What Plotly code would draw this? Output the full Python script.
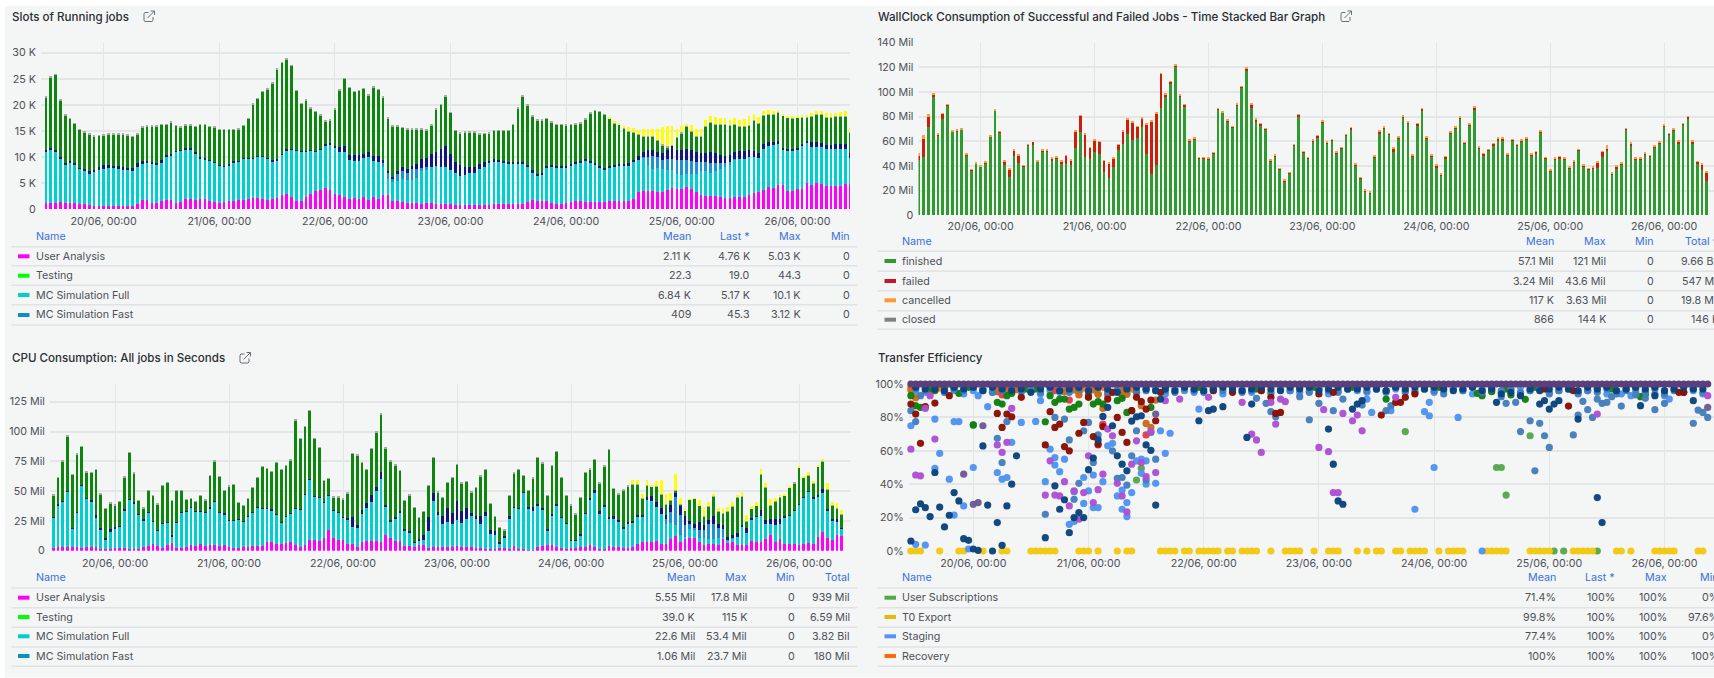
import datetime as dt
import numpy as np
import plotly.graph_objects as go

W, H = 1714, 678
FONT = "Inter"
TXT = "#4c5157"
HEAD = "#3871dc"
TITLE = "#2a2e33"
GRID = "#e3e5e6"
PANEL = "#f4f5f5"

# ---------- Slots of Running jobs (thousands), 168 hourly bars ----------
slots_analysis = [1.1,1.1,1.1,1.3,1.1,1.1,1.1,1.0,.9,.7,.6,.6,.6,.6,.6,.6,.6,.6,.6,.9,1.7,1.8,1.2,1.1,1.6,1.8,1.8,1.2,1.4,1.9,1.9,1.8,1.9,2.0,1.6,1.4,1.2,1.4,1.6,1.5,1.7,1.8,2.0,2.1,2.2,2.0,1.8,1.9,2.2,2.6,2.8,2.3,1.6,1.6,2.3,2.9,3.4,3.6,4.0,3.7,2.8,2.7,2.3,2.0,2.1,2.0,2.3,1.8,2.3,1.9,2.7,2.6,1.6,1.6,1.3,1.2,1.2,1.2,1.0,1.1,1.2,1.0,1.0,.9,.9,.8,.8,.7,.7,.7,.7,.7,.8,.9,.9,.9,.9,1.0,1.0,1.0,1.4,1.7,1.6,1.6,1.6,1.2,1.0,1.0,1.2,1.4,1.5,1.5,1.4,1.3,1.3,1.4,1.4,1.6,1.6,1.6,1.6,1.6,2.0,3.2,3.4,3.5,3.5,3.3,3.3,3.7,4.0,3.9,3.9,4.3,3.8,3.2,2.7,2.5,2.5,2.5,2.3,2.2,2.2,2.3,2.3,2.3,2.6,3.1,3.2,3.7,4.2,4.1,4.6,4.6,3.4,3.4,3.8,3.8,5.0,4.7,4.9,4.8,4.5,4.4,4.4,4.4,4.8,4.76]
slots_full_top = [10.9,11.3,11.0,9.6,8.6,8.8,8.4,7.7,7.2,6.8,7.1,7.4,7.7,7.9,7.8,7.7,7.5,7.4,7.3,8.0,8.7,8.8,8.6,8.4,8.9,9.9,10.3,11.0,11.2,11.4,11.5,10.7,9.7,9.5,9.3,8.9,8.3,8.1,8.4,9.0,9.1,9.7,9.7,9.7,10,10,9.6,9.1,9.4,10.4,11.3,11.4,11.2,11.0,11.0,11.2,11,11.4,12.1,12.3,11.8,11.0,10.9,9.4,9.2,9.2,9.8,10,9.2,9.1,8.0,5.8,5.2,5.4,5.8,5.6,5.6,6.0,7.2,7.5,8.0,8.2,8.1,8.0,7.5,7.0,6.4,6.6,7.0,7.0,7.6,8.0,9.0,9.0,9.0,8.9,8.8,8.8,8.8,8.8,8.0,7.0,6.5,6.6,8.0,8.0,8.0,8.0,8.0,8.4,8.7,9.0,9.2,9.0,8.6,8.0,7.6,7.9,8.1,8.2,8.2,8.3,9.0,9.4,9.8,8.5,7.6,7.8,7.6,7.5,7.4,6.7,6.6,6.8,6.8,6.8,7.2,7.2,7.0,7.2,7.6,8.0,8.4,9.5,9.6,9.6,10.0,10.0,9.8,11.5,12.1,12.2,12.4,11.3,11.1,11.1,11.4,12.0,12.6,11.9,11.9,11.9,11.5,11.5,11.5,11.5,11.5,9.8]
slots_fast = [0]*70+[.8,1.2,.6,1.4,1.4,1.4,2.0,1.6,.6,.5]+[0]*44+[.2,1.5,2.6,2.2,1.8,2.1,2.2,2.7,2.8,2.7,2.4,2.2,1.8,1.8,1.8,1.6,1.2,.8,.6,.1]+[0]*24
slots_navy_top = [11.3,11.8,11.4,9.9,8.9,9.2,8.8,7.9,7.6,7.2,7.5,8.0,8.4,8.5,8.3,8.2,8.1,7.8,7.8,8.8,9.3,9.2,9.0,8.8,9.4,10.3,10.5,11.2,11.4,11.7,11.8,11,9.9,9.7,9.5,9.1,8.5,8.3,8.6,9.2,9.3,9.8,9.8,9.8,10.1,10.1,9.8,9.4,9.6,10.6,11.5,11.6,11.3,11.1,11.1,11.4,11.2,11.6,12.4,12.6,12.0,11.9,12.1,10.3,10.4,10.4,10.6,11,10.2,10.2,9.4,7.3,6.1,7.2,8.0,7.6,8.3,8.6,9.6,9.8,10.6,11.0,11.5,12.0,10.5,9.0,8.4,8.1,8.1,8.1,8.6,9.0,9.3,9.6,9.4,9.3,9.0,9.1,9.1,9.1,8.4,7.4,6.7,7.0,8.2,8.4,8.3,8.3,8.3,8.7,9.1,9.3,9.6,9.2,8.9,8.3,7.9,8.3,8.4,8.6,8.6,8.8,9.5,10.2,11.0,11.3,11.4,11.0,10.7,11.3,12.1,11.3,11.3,11.6,11.3,11.0,10.8,10.8,10.9,10.8,10.3,10.2,10.3,10.9,11.2,11.2,11.4,11.1,10.7,12.4,12.9,12.9,13.0,11.7,11.5,11.6,11.8,12.4,13.0,12.8,12.8,12.7,12.2,12.3,12.4,12.4,12.4,10.7]
slots_total = [21.6,25.4,25.9,21,18.1,17.4,16.5,15.3,14.8,14.4,14.1,14.2,14.3,14.4,14.4,14.4,14.4,14.3,14.0,14.5,15.8,16.0,16.0,16.0,16.3,16.3,16.7,16.1,15.8,16.2,16.2,15.9,16.3,16.3,15.9,15.8,15.3,15.3,15.3,15.3,15.4,16.1,17.4,20.2,21.3,22.6,23.1,24.3,26.9,28.2,28.8,27.6,22.8,20.3,21.0,19.5,18.8,18.1,17.0,17.2,19.3,22.9,25.1,23.4,22.6,22.8,23.2,22.0,23.5,23.0,21.6,17.5,16.0,16.0,15.7,15.4,15.4,15.4,15.4,15.2,16.2,19.2,20.1,21.7,18.6,15.1,14.7,14.8,14.8,14.8,14.5,14.55,14.7,15.1,15.1,15.1,15.1,16.3,19.4,21.7,20.0,17.9,17.1,17.1,17.4,16.8,16.3,16.3,16.2,16.3,16.4,16.6,17.3,18.5,19.0,18.8,18.2,17.6,16.9,16.6,16.0,15.8,15.6,15.1,15.4,15.4,15.4,15.4,15.7,15.9,16.0,15.3,16.0,16.3,16.1,15.4,15.4,17.1,17.8,17.6,17.4,17.4,17.1,17.4,17.0,17.2,17.8,18.3,17.6,18.8,19.0,18.8,19.0,18.3,17.9,17.7,17.9,18.0,18.1,18.4,18.8,18.8,18.4,18.4,18.5,18.6,18.8,15.6]
slots_yellow = [0]*117+[.2,.4,.3,.4,.8,.8,.7,1.4,1.4,1.3,2.1,3.3,3.9,3.8,1.5,1.3,.3,1.1,1.4,1.4,1.2,1.1,1.2,1.0,1.1,.9,1.0,1.1,1.3,1.7,1.2,1.1,.8,.8,.6,.4,.3,.3,.2,.3,.4,.4,.5,.6,.6,.7,.7,.7,.8,1.0,.8]
slots_cap = [.12]*168

# ---------- WallClock consumption (millions), 167 hourly bars ----------
wall_total = [50.5,65,82,99,66.5,83,90.5,69,69.5,70.5,50,37.5,43,40.5,43.5,65,86,68.5,44.5,38.5,53.5,49.5,41,58,59.5,44.5,53.5,53.5,47,48,44.5,49,45.5,69,81.5,66.5,55.5,61.5,60.5,45,43,47,58,69,78.5,76,72.5,79.5,74.5,77,83.5,115.5,99,109,122.5,98,90.5,61.5,63,47.5,47.5,47,51.5,87,84.5,78,72.5,91,105,120,91,78.5,75,71,45.5,49.5,38.5,
              29,35,58,82,52,47.5,61.5,65,77,60,62,51.6,55.4,66,71.6,42,31,21,19.5,48.6,69,72,67,55,64,81,76,49.5,75,87,64,49.5,41.4,34,48,68,72,80,59.5,74.6,88.4,55.7,50.5,54,58.6,63,63,50.3,62,57.8,61.6,63,50.3,52,69,47.5,37.3,46.8,48,46.8,39.5,44.3,54,41.4,38.6,39.5,43.5,52,56.8,34.6,40.3,42.7,71,59,47.3,47.3,51,49,56.5,60,73.8,66.8,70.3,60.8,74.9,80.5,60.8,44,42.2,35.7]
wall_failed = [3.5,15,8,2,1,4.5,.5,.5,.5,.5,.5,.5,.5,.5,1,.5,.5,.5,3.5,6.5,4.5,6.5,1,.5,1.5,.5,1,1,1.5,1.5,2,6.5,4,14,13.5,19,9,10,10,9.5,12.5,7.5,4.5,11,12,14.5,9,7,24,43,42,28,2.5,1.5,2,.5,2.5,1,1,1,.5,1,1,.5,.5,1,.5,1,1,1.5,3.5,1.5,1.5,1,1,1,.5,
               .8,.8,.8,1,.8,1,1.2,1,1,1,1,.8,.8,1,1,1,.9,1,1.2,1,2.5,2,1.2,3,1.3,1,1,1.5,1.2,2,1.2,1.5,1.6,2,1.2,1,1,1,1,1,2,1,1.2,1.2,1,1.2,2,1,1,.8,1,1,1,1,1,1,1,1,1,1,1,1,1,1,1,1.2,4.5,4.5,1,1,1.5,1.2,.8,1.2,1,1,1,1,1,1,1,1,1,1,1,1,1.5,1.5,5,7.5]
wall_cancelled = [2.5,3,2,1,.5,.5,.5,.5,.5,.5,.5,.5,.5,.5,.5,.5,.5,.5,.5,1,.5,.5,.5,.5,0,.5,.5,.5,.5,.5,.5,.5,.5,.5,.5,.5,.5,.5,.5,.5,.5,.5,.5,.5,.5,.5,.5,.5,.5,.5,.5,.5,.5,.5,.5,.5,.5,.5,.5,.5,.5,.5,.5,.5,.5,.5,.5,.5,.5,.5,.5,.5,.5,.5,.5,.5,.5,
                  .4,.4,.4,.4,.3,.4,.4,.4,.4,.6,.4,.4,.4,.4,.4,.4,.4,.4,.4,.4,.4,.4,.4,.4,.4,.4,.4,.4,.4,.5,.4,.4,.4,.4,.4,.4,.4,.4,.4,.4,.6,.4,.4,.4,.4,.5,.4,.4,.4,.4,.4,.5,.4,.4,.4,.4,.4,.4,.4,.4,.4,.4,.4,.4,.4,.4,.4,.4,3.3,.4,.4,.4,.4,.7,1,.6,.5,.4,.4,.4,.4,.4,.4,1,.4,.4,.8,.5,.4,.4]

# ---------- CPU consumption (millions), 167 hourly bars ----------
cpu_analysis = [2.2,3.5,3.5,3.5,3,3.5,2.5,3,3.2,3,1.7,1.2,1.2,2,2.2,2.2,1.7,1.2,1.8,3.2,3.7,5.7,4,2,4.7,6.7,2.5,2.5,3.2,5,4.2,5.5,4.2,5.2,5.2,3.8,4.6,3.4,2.5,2.5,3.5,3.3,3.7,4.3,3.8,7,7,5.7,6,6.2,7.2,5,3.5,4.7,9,9,8.5,11,17.5,10.5,8.7,9.2,6,5.5,3,7.5,8,8.5,8.5,7.5,13,10.3,8,8.2,3.6,4.2,3,5,5,2.6,
                2.8,2.7,2.7,3.5,3,3.6,2.8,3.2,2.8,2,2,1.5,1.5,1.7,2.3,2.1,1.2,3.7,1.7,1.7,1,1,
                3.5,4,5,4.7,3,2.2,1.5,2,2.5,2.8,2.8,4.5,3.5,1.8,1.8,4.2,3,2.8,2.2,2.5,2.8,5.5,7.5,7,7.5,8.5,5.5,5.5,9.5,12,7,10,11,11,7.5,5,5.5,5.5,5,10.5,6.5,7,4.5,5,4.5,8,7.5,7,9.5,13,7.5,10,6,6,6,5,5.5,6.5,6,11.5,16,11,9,13,12]
cpu_full_top = [27.7,37.5,41,50,18.7,32,55,44,41.5,27.4,17.5,9.5,15.4,17.9,20.7,33.3,43.3,39.7,30,24.6,32,24.6,17.3,22.9,23.5,12.3,23.5,32,33.3,36.3,33.3,32.7,32,35,41,32,30.7,25.7,25.7,26.3,24.3,28.5,31.9,36.4,35.2,35.5,34,30,23.5,28.5,31.3,35.8,34.7,47,59.8,45.6,44.7,40.8,46.7,34,32.4,28,25.7,20,18.7,30.8,35.8,41,50.3,60.4,36.3,24.6,27.4,31.9,16.2,15,6.7,8.4,9,16.8,
                41.7,30,22,24.3,22,25.7,23,26.3,29,26.3,22,29,13.7,13,6,10.3,26.8,36.3,35.5,48.7,35,33.6,
                37.5,34,17.3,29.9,38.3,27.7,22.9,8.9,8.4,13.1,31.3,43.3,48.7,30.8,36.3,26.6,26.8,24.3,18.7,22.4,23.5,29,28.5,42.5,41.9,36.3,30.8,22.4,22.9,21.5,13.1,11.7,18.2,17.3,10.3,10.3,9.5,9.5,10.3,11.7,8.9,10.3,11.7,19.6,15.1,26.3,28.5,29,22.4,22.4,21.5,22.4,28,29.4,34.1,39.1,44.7,49.5,43.9,45.3,48.7,33.6,25.7,23.8,18.7]
cpu_fast = [0]*129+[4.2,9.8,23.8,16.8,9.8,4.2,1.7,7,7,12.9,12.9,8.4,6.8,.2,.2]+[0]*23
cpu_navy_top = [28,39.4,41.5,50.5,19,32.4,55.3,44.3,42.5,30,18.7,10.3,17.9,20,21,35.2,43.7,40.8,31,26.3,32.8,25,17.6,23.2,23.8,13.4,23.8,32.3,33.6,36.6,33.6,33,32.3,36.3,41.3,32.7,31.5,26,26,26.6,24.6,28.8,32.2,36.7,35.5,35.8,35.4,30.8,23.8,28.8,31.6,36.1,35,47.3,60.1,46,45,41.1,47,34.3,32.7,28.3,27.4,28,21.5,33.8,40.3,47,53.7,66,38,25.7,28,33,17.9,16.2,7.5,9.5,13.4,28,
                48.7,32.7,29.4,35.5,32,41.7,33.3,35.5,32,29,29.4,32.2,17,16.5,7.3,12.6,28.8,36.6,35.8,49,36.3,36.9,
                38.9,36,18.2,30.8,38.8,28.2,23.2,9.2,8.7,13.9,31.6,43.9,50.9,33.3,38.3,28,29,25.7,20.1,24.3,24.9,29.9,29.9,45.3,45.6,40.8,35.5,30.2,38.3,48.7,38.3,29.4,25.2,22.1,24.3,21.5,25.7,29.4,22.4,21.5,11.7,13.1,14.5,21.5,18.7,27.7,29,34.1,25.7,26.3,26.6,26.3,29.4,29.8,34.4,39.6,45.3,50,44.7,46.7,51.4,35.2,26.3,26.3,19]
cpu_green_top = [46.7,61.5,75,96,64,81,87,66,65.5,68,47.5,35,40,38.3,41,61.8,82.5,65,41.7,35.8,50.3,46.4,39,54.8,56.8,41.7,50.3,50.3,42.8,43.6,41,46.4,42.5,63,75,62.3,50.3,54.2,55.3,40.5,38,43.6,53,61.5,70.5,69,66.5,73.8,68,71.3,76,109.6,94,104,117.7,94,86.7,58.7,60.4,45,45,43.3,48.4,81.6,80,73.8,68,85.6,99.5,114.4,86,75,71.8,67.4,41.7,46.7,36,27.7,32.7,54.5,
                 78.3,49,44.5,57,61.5,72.4,56.5,58,49.2,52.8,62.6,68,39.7,28.8,19.3,17.3,46,64.9,68,63.2,50.3,60.7,
                 78,73.3,46.4,71.3,83,61.2,46.1,38.3,30.5,44.5,65.4,68.5,76.3,56.5,71,85,52.3,47.5,50.9,54.2,55.9,55.4,44.2,54.5,53.7,54.2,47.3,39.1,42.2,50.3,39.1,33.6,42.8,43.6,37.5,28.5,36.9,45.3,32.7,31.3,33.3,36.9,44.7,45.3,24.3,35,37.5,64.3,52.8,38.3,41.1,44.5,46.4,53.1,56.5,69.9,61.5,63.5,56.5,70.5,74.9,51.7,38.3,35.2,30.5]
cpu_yellow = [0]*122+[3.4,3.6,2.8,4.5,1.3,4,12,7.9,5.6,14,4.5,.5,.2,.1,4.4,7.5,3.4,2,3.1,4.2,2.7,3.6,2,3.6,5.3,1.9,3,3.6,3.7,5,2.8,2.2,.6,.6,0,.8,1.1,2.5,1.4,.8,2,4.8,2.2,4.5,3.6]
cpu_cap = [.3]*167

# ---------- Transfer efficiency: (hour index, percent) ----------
t0_hours = [0,1,2,6,10,11,15,19,20,25,26,27,28,29,30,35,36,37,39,43,45,46,52,53,54,55,57,58,60,61,62,63,64,66,67,69,70,71,72,75,78,79,80,81,84,87,88,89,93,95,97,98,101,102,104,105,106,107,110,112,113,114,115,120,121,122,123,124,129,130,131,132,133,138,139,140,141,142,147,148,150,155,156,157,158,159,164,165]
t0_values = [0]*len(t0_hours)
subs_pts = [(13,75.5),(47,42.5),(48,49.5),(103,71.5),(122,50),(123,50),(124,33.5),(129,69),(134,0),(136,0),(143,0)]
staging_pts = [(0,75),(1,4),(3,3.6),(5,79),(6,58.5),(5,49.5),(8,43),(9,77.5),(10,77.5),(9,21.5),(11,27),(13,50),(12,1.2),(14,93),(16,86.4),(18,47),(19,43),(20,44),(21,65),(23,77),(26,77.6),(27,90),(28,41.5),(29,61),(30,56),(30,51.5),(31,47.5),(32,55),(33,16),(34,35.5),(34,17.6),(36,44),(36,28.5),(37,36),(38,45.5),(38,26),(39,26),(40,41.5),(41,63),(42,64.5),(43,33),(44,36.5),(44,25),(45,29),(45,20.6),(46,35),(47,54),(48,55),(48,46.5),(49,54),(49,40),(51,40.5),(52,72),(53,58.5),(54,70.5),(60,85),(15,96),(17,96),(96,83),(109,50),(108,89),(107,83.4),(108,81),(105,25),(114,80),(119,0),(100,84),(95,91),(148,94),(150,93),(158,91),(157,93)]
recovery_pts = [(0,98),(1,98),(3,97.5),(4,98),(5,98),(6,97.5),(18,98),(19,97),(20,97.5),(21,98),(22,98),(23,97.5),(30,98),(31,97.5),(32,98),(33,97),(34,97.5),(35,98),(36,97.5),(37,98),(38,97),(39,97.5),(40,98),(44,97.5),(45,98),(46,97)]
red_pts = [(18,95.4),(19,93.4),(33,90.4),(37,93.4),(39,63.5),(40,76),(41,93.4),(43,95.4),(44,93.4),(49,69.5),(20,96),(30,96),(35,95)]
orange_dark_pts = [(0,96.4),(1,91.8),(18,96.4),(20,96.4),(22,96.6),(32,95.4),(33,96.4),(34,96.4),(35,93.4),(37,96.4),(38,96.4),(39,93.8),(40,85.4),(43,96.4),(44,95.4),(45,93.8),(48,87),(49,76.4),(50,74),(51,90.4)]
green_pts = [(0,93),(1,87),(2,86),(4,96),(5,96),(10,94.4),(13,75.5),(18,89),(19,88),(20,93),(21,94.4),(28,77.4),(29,93),(30,89),(31,91),(32,91),(33,85),(34,86),(35,88),(37,92.4),(38,88),(39,89.4),(40,88),(43,90),(44,91.4),(45,83),(46,84),(47,95),(50,86),(99,91),(118,94.4),(119,93),(121,95.4),(124,97),(125,93.4),(127,93.4),(128,90.8),(152,92.4),(153,93.8),(7,98),(9,98),(12,98),(24,97),(26,97),(53,98),(60,98),(72,97),(84,98),(92,98),(110,98),(130,98),(146,97)]
medblue_pts = [(0,84),(1,77.5),(2,93),(18,67.5),(19,53),(20,77.5),(28,22),(30,80),(32,79),(33,66.5),(34,31),(35,40.5),(36,72),(37,77),(38,53),(39,69.5),(42,60),(43,43.5),(44,44),(45,39.5),(46,57),(47,72),(49,42.5),(50,71),(51,55),(85,88.4),(88,84),(83,78.6),(75,83.4),(76,80.4),(90,91),(94,87.4),(99,84),(100,87),(123,92.4),(124,88.4),(126,89),(127,71.5),(129,78),(130,48),(131,76.5),(132,69),(133,62),(138,69.5),(139,81.4),(140,89.6),(141,84.6),(142,80),(143,91),(144,88.4),(145,89),(146,92.4),(148,86.8),(155,84.6),(157,88.4),(163,76.5),(164,84.4),(165,83),(166,80),(74,88.4),(81,92.4),(72,91.4),(153,91.4),(151,93.4)]
darkred_pts = [(0,88),(1,82),(2,64.5),(3,86.4),(5,88.6),(8,93),(18,82.4),(19,74),(20,82),(21,80.4),(23,92),(28,63.5),(29,83.4),(30,74),(31,76),(32,62.5),(33,60),(35,70.5),(36,77),(37,92),(38,68.5),(39,64),(40,74.5),(41,91),(42,95),(43,80),(44,71),(45,65),(46,84),(47,92),(48,89.4),(49,85),(50,90.4),(51,78),(52,95),(63,96),(67,95),(75,92),(76,82.4),(77,83),(85,94),(98,81.4),(101,89),(102,89),(103,92),(105,94),(137,86.8),(138,96),(132,97),(160,95),(161,95),(88,95),(73,96)]
purple_light_pts = [(0,61),(1,45.5),(2,45),(3,85.4),(4,93),(5,67),(7,96),(18,63.5),(19,59),(20,65),(21,85.4),(28,33.5),(29,54),(30,33.5),(31,33),(32,41.5),(33,27),(34,36),(35,19),(36,35),(37,57),(38,29),(39,36.7),(40,46),(41,73),(42,69),(43,40.5),(44,33),(45,23.4),(46,52),(47,66),(48,53),(49,44.5),(50,71.5),(51,47),(53,90),(56,91),(62,92),(69,89),(71,70),(72,66.5),(73,59),(75,89),(76,76),(77,91),(78,89.4),(86,84.6),(90,82.4),(92,78),(93,81.4),(94,72),(85,62),(87,59.5),(88,35),(89,35),(101,92),(143,82),(166,93)]
purple_dim_pts = [(11,46),(13,28),(14,29),(15,75),(51,82),(166,86)]
navy_pts = [(0,6),(1,24.7),(2,28.3),(3,26),(4,20.6),(6,26.3),(5,47),(7,14.4),(8,21.4),(9,35),(10,30),(11,7.4),(12,6.4),(13,1.2),(14,.4),(15,62.9),(16,27.5),(17,0),(18,17),(19,3.4),(20,27),(21,40),(22,57),(28,8),(30,39),(31,25),(32,30.7),(33,11),(34,20),(35,23),(36,20),(37,48.7),(38,55.7),(39,66.5),(40,80.6),(41,86),(42,75),(43,57),(44,52),(45,48),(46,77.8),(47,80.4),(48,81),(49,63.5),(50,60.3),(51,27.5),(52,91),(60,78),(62,84),(63,85),(65,86.4),(70,68),(71,88),(87,73),(88,52),(89,30),(90,28),(92,85),(93,88),(94,90),(122,89),(131,88),(132,90),(133,85),(134,88),(135,90),(139,79),(143,32),(144,17),(152,87),(155,93),(163,90)]
band_hours = list(range(1, 167, 2))
band_navy = [98,97,97,96,98,97,98,96,98,97,96,97,95,97,98,96,97,98,96,98,97,95,97,98,97,96,97,96,98,97,96,97,98,97,96,97,98,97,96,98,97,98,96,97,98,97,97,98,97,96,98,97,98,97,98,97,96,97,98,96,97,94,95,93,97,96,97,98,97,96,98,97,98,96,97,98,97,98,96,97,98,97,97]
band_staging = [96,95,97,95,96,94,96,97,95,96,97,95,96,94,96,95,97,96,95,94,96,97,95,96,97,96,94,97,96,95,97,96,94,96,97,95,96,94,97,96,95,96,97,94,96,97,96,95,97,96,97,95,96,97,95,96,97,96,94,97,96,95,97,98,96,97,95,96,97,95,96,97,94,96,97,95,96,94,96,97,95,96,94]
band_blue = [97,96,98,95,97,96,98,97,95,96,98,96,97,95,98,96,95,97,96,98,95,96,97,95,96,98,96,95,97,96,95,97,96,98,95,96,97,95,97,96,98,95,97,96,95,97,98,96,97,95,98,96,95,97,96,94,97,96,98,95,97,96,97,95,96,97,94,96,97,94,96,95,97,94,96,97,95,97,94,96,95,97,95]
purple_hours = list(range(167))
purple_values = [100]*167

# ---------- Tables ----------
tbl_slots_head = ["Mean", "Last *", "Max", "Min"]
tbl_slots = [("User Analysis", "#ff00ff", ["2.11 K", "4.76 K", "5.03 K", "0"]),
             ("Testing", "#00ff00", ["22.3", "19.0", "44.3", "0"]),
             ("MC Simulation Full", "#00cfcf", ["6.84 K", "5.17 K", "10.1 K", "0"]),
             ("MC Simulation Fast", "#0a8fc9", ["409", "45.3", "3.12 K", "0"])]
tbl_wall_head = ["Mean", "Max", "Min", "Total ▾"]
tbl_wall = [("finished", "#2f9a2f", ["57.1 Mil", "121 Mil", "0", "9.66 Bil"]),
            ("failed", "#c4162a", ["3.24 Mil", "43.6 Mil", "0", "547 Mil"]),
            ("cancelled", "#ff9830", ["117 K", "3.63 Mil", "0", "19.8 Mil"]),
            ("closed", "#808080", ["866", "144 K", "0", "146 K"])]
tbl_cpu_head = ["Mean", "Max", "Min", "Total"]
tbl_cpu = [("User Analysis", "#ff00ff", ["5.55 Mil", "17.8 Mil", "0", "939 Mil"]),
           ("Testing", "#00ff00", ["39.0 K", "115 K", "0", "6.59 Mil"]),
           ("MC Simulation Full", "#00cfcf", ["22.6 Mil", "53.4 Mil", "0", "3.82 Bil"]),
           ("MC Simulation Fast", "#0a8fc9", ["1.06 Mil", "23.7 Mil", "0", "180 Mil"])]
tbl_eff_head = ["Mean", "Last *", "Max", "Min"]
tbl_eff = [("User Subscriptions", "#56a64b", ["71.4%", "100%", "100%", "0%"]),
           ("T0 Export", "#e8b90c", ["99.8%", "100%", "100%", "97.6%"]),
           ("Staging", "#5794f2", ["77.4%", "100%", "100%", "0%"]),
           ("Recovery", "#ff6a0a", ["100%", "100%", "100%", "100%"])]

# ---------- Layout helpers ----------
def px(x): return x / W
def py(y): return 1 - y / H
BASE = dt.datetime(2024, 6, 20)
def when(hours): return BASE + dt.timedelta(hours=float(hours))

fig = go.Figure()
annots, shapes = [], []
shapes.append(dict(type="rect", xref="paper", yref="paper", x0=px(5), x1=1, y0=py(677.5), y1=py(6),
                   fillcolor=PANEL, line_width=0, layer="below"))

def text(x, y, s, color=TXT, size=10.7, anchor="left", weight=None):
    annots.append(dict(xref="paper", yref="paper", x=px(x), y=py(y), text=s, showarrow=False,
                       xanchor=anchor, yanchor="middle", borderpad=0, borderwidth=0,
                       font=dict(family=FONT, size=size, color=color, weight=weight or 400)))

def icon(x, y):
    pts = [(x+4.5,y+2),(x+1,y+2),(x,y+3),(x,y+10),(x+1,y+11),(x+8,y+11),(x+9,y+10),(x+9,y+6.5)]
    d = "M" + " L".join(f"{px(a):.5f},{py(b):.5f}" for a,b in pts)
    d += f" M{px(x+3.5):.5f},{py(y+7.5):.5f} L{px(x+10.5):.5f},{py(y+.5):.5f}"
    d += f" M{px(x+6.5):.5f},{py(y+.5):.5f} L{px(x+10.5):.5f},{py(y+.5):.5f} L{px(x+10.5):.5f},{py(y+4.5):.5f}"
    shapes.append(dict(type="path", xref="paper", yref="paper", path=d, line=dict(color="#6a7078", width=1)))

def table(head, rows, xname, xsw, xcols, yhead, yrows, seps, xl, xr):
    text(xname, yhead, "Name", HEAD)
    for h, xc in zip(head, xcols):
        text(xc, yhead, h, HEAD, anchor="right")
    for (name, col, vals), y in zip(rows, yrows):
        shapes.append(dict(type="rect", xref="paper", yref="paper", x0=px(xsw), x1=px(xsw+11.5),
                           y0=py(y+2), y1=py(y-2), fillcolor=col, line_width=0))
        text(xname, y, name)
        for v, xc in zip(vals, xcols):
            text(xc, y, v, anchor="right")
    for s in seps:
        shapes.append(dict(type="line", xref="paper", yref="paper", x0=px(xl), x1=px(xr), y0=py(s), y1=py(s),
                           line=dict(color="#e0e2e3", width=1.5)))

def axes(idx, left, right, top, bottom, origin, perday, ymax, tickvals, ticktext, standoff):
    ax = "" if idx == 1 else str(idx)
    fig.layout["xaxis"+ax] = dict(domain=[px(left), px(right)], anchor="y"+ax, type="date",
        range=[BASE + dt.timedelta(days=(left-origin)/perday), BASE + dt.timedelta(days=(right-origin)/perday)],
        tick0=BASE, dtick=86400000, tickformat="%d/%m, %H:%M", showgrid=True, gridcolor=GRID, gridwidth=1.2,
        zeroline=False, showline=False, ticks="outside", ticklen=standoff, tickcolor="rgba(0,0,0,0)",
        tickfont=dict(family=FONT, size=10.7, color=TXT))
    fig.layout["yaxis"+ax] = dict(domain=[py(bottom), py(top)], anchor="x"+ax, range=[0, ymax], tickvals=tickvals,
        ticktext=ticktext, showgrid=True, gridcolor=GRID, gridwidth=1.5, zeroline=False, showline=False,
        ticks="outside", ticklen=2, tickcolor="rgba(0,0,0,0)", tickfont=dict(family=FONT, size=10.7, color=TXT))

def bars(idx, start, series):
    ax = "" if idx == 1 else str(idx)
    n = len(series[0][0])
    xs = [when(start + i) for i in range(n)]
    for vals, col in series:
        fig.add_bar(x=xs, y=np.clip(vals, 0, None), xaxis="x"+ax, yaxis="y"+ax, marker=dict(color=col, line_width=0),
                    width=3600000*0.56, showlegend=False)

# Panel 1
a = np.array(slots_analysis); c = np.array(slots_full_top); f = np.array(slots_fast, float)
n = np.array(slots_navy_top); t = np.array(slots_total); y_ = np.array(slots_yellow, float); cap = np.array(slots_cap)
bars(1, -12, [(a,"#ff00ff"),(c-a,"#00cfcf"),(f,"#1f8fd6"),(n-c-f,"#14147d"),(t-y_-n-cap,"#0c860c"),(cap,"#a9a9a9"),(y_,"#ffff00")])
axes(1, 41, 850, 43, 209, 103.7, 115.6, 166/5.21, [0,5,10,15,20,25,30], ["0","5 K","10 K","15 K","20 K","25 K","30 K"], 2)

# Panel 2
tot = np.array(wall_total); fl = np.array(wall_failed); cn = np.array(wall_cancelled)
bars(2, -13, [(tot-fl-cn,"#2f9a2f"),(fl,"#cc1f0a"),(cn,"#ffa040")])
axes(2, 918.5, 1714, 42.7, 215.3, 980.7, 113.9, 140, [0,20,40,60,80,100,120,140],
     ["0","20 Mil","40 Mil","60 Mil","80 Mil","100 Mil","120 Mil","140 Mil"], 1)

# Panel 3
a = np.array(cpu_analysis); c = np.array(cpu_full_top); f = np.array(cpu_fast, float)
n = np.maximum(np.array(cpu_navy_top), c+f); g = np.array(cpu_green_top); y_ = np.array(cpu_yellow, float); cap = np.array(cpu_cap)
bars(3, -13, [(a,"#ff00ff"),(c-a,"#00cfcf"),(f,"#1f8fd6"),(n-c-f,"#14147d"),(g-n,"#0c860c"),(cap,"#a9a9a9"),(y_,"#ffff00")])
axes(3, 50, 850.7, 384, 550.7, 115, 114, 166.7/29.8*25, [0,25,50,75,100,125], ["0","25 Mil","50 Mil","75 Mil","100 Mil","125 Mil"], 2)

# Panel 4
def dots(hours, vals, col, opacity=.97):
    fig.add_scatter(x=[when(h-13) for h in hours], y=vals, mode="markers", xaxis="x4", yaxis="y4", cliponaxis=False,
                    showlegend=False, marker=dict(color=col, size=7.2, opacity=opacity, line_width=0))
def pts(p, col):
    dots([a_ for a_, _ in p], [b_ for _, b_ in p], col)
pts(subs_pts, "#56a64b")
dots(t0_hours, t0_values, "#f2c80f")
pts(staging_pts, "#4f94f0")
dots(band_hours, band_staging, "#4f94f0")
pts(recovery_pts, "#f2780e")
pts(red_pts, "#e8394a")
pts(orange_dark_pts, "#cc6b16")
pts(green_pts, "#0f7f0f")
pts(medblue_pts, "#447ebc")
dots(band_hours, band_blue, "#447ebc")
pts(darkred_pts, "#890f02")
pts(purple_light_pts, "#ad4fd2")
pts(purple_dim_pts, "#6e5a94")
pts(navy_pts, "#0a437c")
dots(band_hours, band_navy, "#0a437c")
dots(purple_hours, purple_values, "#5a3f7c", 1)
axes(4, 909, 1714, 384, 551, 973.3, 115.2, 100, [0,20,40,60,80,100], ["0%","20%","40%","60%","80%","100%"], 2)

# Titles + icons
TS = 11.6
text(12, 16.7, "Slots of Running jobs", TITLE, TS, weight=500); icon(144, 10.5)
text(878, 16.7, "WallClock Consumption of Successful and Failed Jobs - Time Stacked Bar Graph", TITLE, TS, weight=500); icon(1341, 10.5)
text(12, 358, "CPU Consumption: All jobs in Seconds", TITLE, TS, weight=500); icon(240, 352)
text(878, 358, "Transfer Efficiency", TITLE, TS, weight=500)

table(tbl_slots_head, tbl_slots, 36, 18, [690.6, 749.9, 801.4, 849.7], 236.3, [256.3,275.7,295,315],
      [246.7,265.7,285.3,304.7,325], 11.5, 857)
table(tbl_wall_head, tbl_wall, 902, 884.5, [1554.4,1605.6,1654,1719], 241.7, [261,281,300.3,319.7],
      [251.3,271.3,290.7,310.7,329.3], 877, 1714)
table(tbl_cpu_head, tbl_cpu, 36, 18, [695,746.6,794.8,849.7], 577.7, [597.7,617,636.3,656],
      [588,607.7,627.3,647,666.3], 11.5, 857)
table(tbl_eff_head, tbl_eff, 902, 884.5, [1556,1615.4,1667,1719], 577.7, [597.7,617,636.3,656],
      [588,607.7,627.3,647,666.3], 877, 1714)

fig.update_layout(width=W, height=H, margin=dict(l=0,r=0,t=0,b=0,pad=0,autoexpand=False), paper_bgcolor="#ffffff",
                  plot_bgcolor="rgba(0,0,0,0)", barmode="stack", bargap=.38, showlegend=False,
                  annotations=annots, shapes=shapes, font=dict(family=FONT, color=TXT), hovermode=False)
fig.write_html("out.html", config={"displayModeBar": False},
               post_script="document.body.style.margin='0';document.body.style.overflow='hidden';")
